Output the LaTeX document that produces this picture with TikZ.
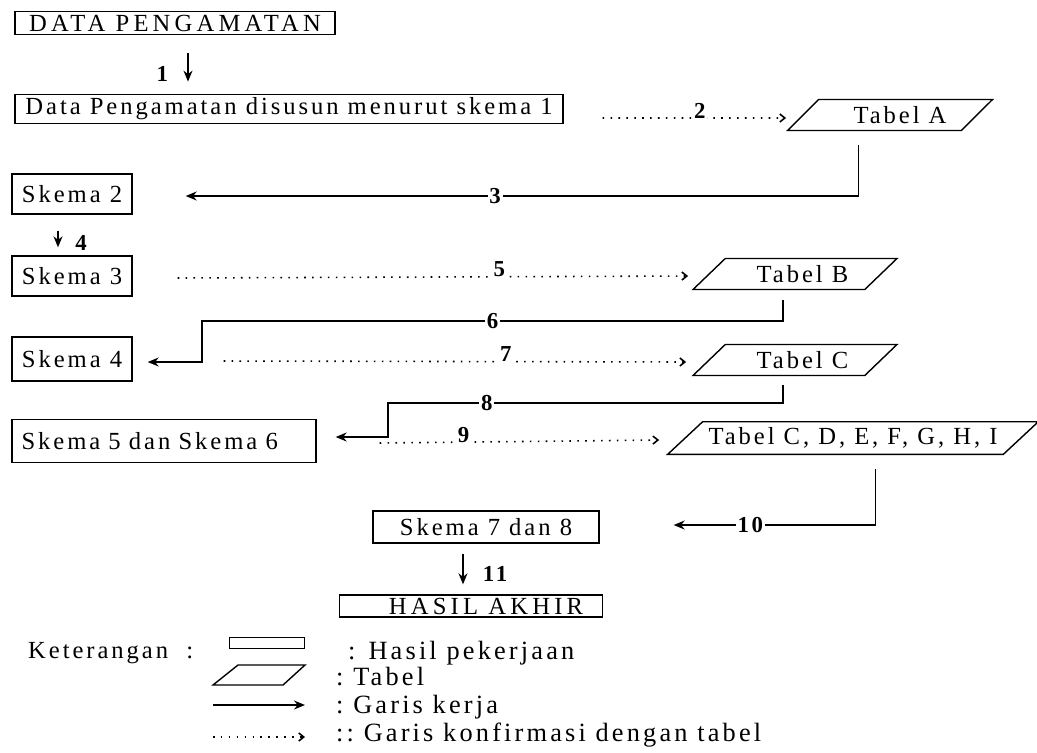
\documentclass[tikz,border=0pt]{standalone}
\usepackage{fontspec}
\setmainfont{Liberation Serif}[LetterSpace=12]
\usetikzlibrary{positioning, arrows.meta, shapes.geometric}
\tikzset{
x=0.02cm, y=-0.02cm, % one unit is one pixel of the scan
every node/.style={font=\fontsize{14}{16}\selectfont}, % same text size everywhere
kerja/.style={-{Stealth[length=2.2mm,width=1.8mm]}, thick}, % garis kerja
konfirmasi/.style={-{Straight Barb[length=1mm,width=1.6mm]}, line width=0.9pt, dash pattern=on 0.9pt off 3.6pt}, % garis konfirmasi
hasil/.style={draw, thick, minimum width=2.4cm, minimum height=0.8cm, inner sep=2pt}, % hasil pekerjaan
tabel/.style={draw, thick, trapezium, trapezium left angle=42, trapezium right angle=138, trapezium stretches body, minimum width=4.08cm, minimum height=0.62cm}, % tabel
num/.style={font=\fontsize{13}{15}\selectfont\bfseries, inner sep=1pt, fill=white}, % nomor langkah
legenda/.style={anchor=west, font=\fontsize{15}{17}\selectfont}, % teks keterangan
lebar/.style={font=\fontsize{14}{16}\selectfont\addfontfeature{LetterSpace=17}}, % huruf kapital renggang
}
\begin{document}
\begin{tikzpicture}
\useasboundingbox (0,0) rectangle (1037,752);
% hasil pekerjaan
\node[hasil, lebar, minimum width=6.4cm, minimum height=0.46cm] (data) at (175,23) {DATA PENGAMATAN};
\node[hasil, minimum width=10.96cm, minimum height=0.5cm] (susun) at (289,109) {Data Pengamatan disusun menurut skema 1};
\node[hasil] (sk2) at (72,194) {Skema 2};
\node[hasil] (sk3) at (72,276) {Skema 3};
\node[hasil, minimum height=0.88cm] (sk4) at (72,359) {Skema 4};
\node[hasil, minimum width=6.08cm, minimum height=0.86cm, text width=5.7cm, align=left] (sk56) at (164,441) {Skema 5 dan Skema 6};
\node[hasil, minimum width=4.52cm, minimum height=0.64cm] (sk78) at (486,527) {Skema 7 dan 8};
\node[hasil, lebar, minimum width=5.26cm, minimum height=0.44cm, inner sep=1pt] (akhir) at (471,606) {\hspace{0.6cm}HASIL AKHIR};
% tabel
\node[tabel, trapezium left angle=43, trapezium right angle=137, minimum width=4.1cm] (tA) at (890,115) {\hspace{0.4cm}Tabel A};
\node[tabel] (tB) at (795,274) {\hspace{0.3cm}Tabel B};
\node[tabel] (tC) at (795,360) {\hspace{0.3cm}Tabel C};
\node[tabel, trapezium left angle=43, trapezium right angle=137, minimum width=7.26cm, minimum height=0.64cm] (tD) at (853,438) {Tabel\ C, D, E, F, G, H, I};
% garis kerja
\coordinate (a1) at ([xshift=0.26cm, yshift=-0.36cm]data.south);
\draw[kerja, shorten >=0.24cm] (a1) -- node[num, left=0.35cm, fill=none]{1} (a1 |- susun.north);
\draw[kerja] ([xshift=-0.63cm, yshift=-0.28cm]tA.south) |- node[num, pos=0.77]{3} ([xshift=1.06cm, yshift=-0.04cm]sk2.east);
\coordinate (a4) at ([xshift=-0.28cm, yshift=-0.32cm]sk2.south);
\draw[kerja, shorten >=0.16cm] (a4) -- node[num, right=0.3cm, fill=none]{4} (a4 |- sk3.north);
\coordinate (k6) at (202,321);
\draw[kerja] ([xshift=-0.24cm, yshift=-0.2cm]tB.south) |- node[num, pos=0.75]{6} (k6) |- ([xshift=0.3cm, yshift=-0.06cm]sk4.east);
\coordinate (k8) at (388,403);
\draw[kerja] ([xshift=-0.24cm, yshift=-0.17cm]tC.south) |- node[num, pos=0.875]{8} (k8) |- ([xshift=0.38cm, yshift=0.08cm]sk56.east);
\draw[kerja] ([xshift=0.45cm, yshift=-0.28cm]tD.south) |- node[num, pos=0.81]{10} ([xshift=1.48cm, yshift=0.04cm]sk78.east);
\coordinate (a11) at ([xshift=-0.46cm, yshift=-0.2cm]sk78.south);
\draw[kerja, shorten >=0.2cm] (a11) -- node[num, right=0.35cm, fill=none]{11} (a11 |- akhir.north);
% garis konfirmasi
\draw[konfirmasi] ([xshift=0.78cm, yshift=-0.18cm]susun.east) -- node[num, pos=0.53, anchor=base]{2} ([xshift=-0.32cm, yshift=-0.06cm]tA.west);
\draw[konfirmasi] ([xshift=0.9cm, yshift=-0.04cm]sk3.east) -- node[num, pos=0.63, anchor=base]{5} ([xshift=-0.4cm, yshift=-0.04cm]tB.west);
\draw[konfirmasi] ([xshift=1.82cm, yshift=-0.04cm]sk4.east) -- node[num, pos=0.61, anchor=base]{7} ([xshift=-0.44cm, yshift=-0.04cm]tC.west);
\draw[konfirmasi] ([xshift=1.26cm, yshift=-0.04cm]sk56.east) -- node[num, pos=0.3, anchor=base]{9} ([xshift=-0.5cm, yshift=-0.04cm]tD.west);
% keterangan
\node[anchor=west] (ket) at (22,653) {Keterangan\ \ :};
\node[hasil, minimum width=1.5cm, minimum height=0.22cm, inner sep=0pt] (lgH) at (267,643) {};
\node[legenda] (txH) at (342,653) {: Hasil pekerjaan};
\coordinate (lgT) at (213,685);
\draw[thick] (lgT) -- ++(25,-20) -- ++(67,0) -- ++(-22,20) -- cycle;
\node[legenda] (txT) at (330,677) {:\ Tabel};
\coordinate (lgK1) at (213,705);
\coordinate (lgK2) at (305,705);
\draw[kerja] (lgK1) -- (lgK2);
\node[legenda] (txK) at (330,707) {:\ Garis kerja};
\coordinate (lgC1) at (213,737);
\coordinate (lgC2) at (305,737);
\draw[konfirmasi] (lgC1) -- (lgC2);
\node[legenda] (txC) at (330,735) {::\ Garis konfirmasi dengan tabel};
\end{tikzpicture}
\end{document}
